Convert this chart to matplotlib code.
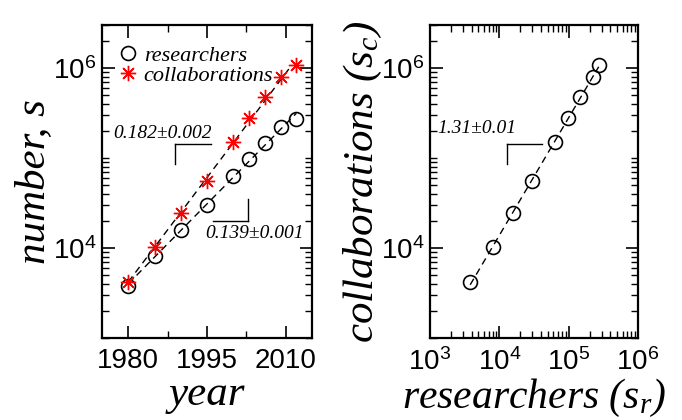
import numpy as np
import matplotlib
matplotlib.use("Agg")
import matplotlib.pyplot as plt
from matplotlib.ticker import FixedLocator, LogLocator, NullFormatter, FuncFormatter
from matplotlib.lines import Line2D

plt.rcParams['font.family'] = ['Liberation Sans', 'DejaVu Sans']
plt.rcParams['mathtext.fontset'] = 'custom'
plt.rcParams['mathtext.rm'] = 'Liberation Sans'
plt.rcParams['mathtext.it'] = 'Liberation Serif:italic'
plt.rcParams['mathtext.bf'] = 'Liberation Sans:bold'

# ---- data ----
years = [1980, 1985, 1990, 1995, 2000, 2003, 2006, 2009, 2012]
researchers = [3800, 8150, 15850, 30000, 63500, 97500, 147000, 221000, 271000]
collaborations = [4230, 10340, 24300, 55500, 151800, 276000, 472000, 789000, 1080000]
slope_labels = ["0.182\u00b10.002", "0.139\u00b10.001", "1.31\u00b10.01"]
legend_labels = ["researchers", "collaborations"]

serif_it = dict(family='Liberation Serif', style='italic')

fig = plt.figure(figsize=(6.82, 4.2), dpi=100)
axL = fig.add_axes([0.1496, 0.195, 0.308, 0.745])
axR = fig.add_axes([0.6305, 0.195, 0.305, 0.745])

def style_axes(ax):
    for s in ax.spines.values():
        s.set_linewidth(1.6)
    ax.tick_params(which='both', direction='in', top=True, right=True, labelsize=20)
    ax.tick_params(axis='x', which='both', pad=7)
    ax.tick_params(axis='y', which='both', pad=4)
    ax.tick_params(which='major', length=9, width=1.2)
    ax.tick_params(which='minor', length=5, width=1.0)

def pow_fmt(v, pos):
    e = int(round(np.log10(v)))
    return r'$\mathregular{10^{%d}}$' % e

# ---- left panel ----
yrs = np.array(years, dtype=float)
r = np.array(researchers, dtype=float)
c = np.array(collaborations, dtype=float)

pr = np.polyfit(yrs, np.log(r), 1)
pc = np.polyfit(yrs, np.log(c), 1)
tr = np.linspace(yrs[0], yrs[-1], 50)
tc = np.linspace(yrs[0], 2011, 50)
axL.plot(tr, np.exp(np.polyval(pr, tr)), color='black', ls=(0, (5, 3.5)), lw=1.0, zorder=2)
axL.plot(tc, np.exp(np.polyval(pc, tc)), color='black', ls=(0, (5, 3.5)), lw=1.0, zorder=2)
axL.plot(yrs, r, ls='none', marker='o', ms=10, mfc='none', mec='black', mew=1.2, zorder=3)
axL.plot(yrs, c, ls='none', marker=(8, 2, 0), ms=11, mec='red', mfc='red', mew=1.0, zorder=4)

axL.set_yscale('log')
axL.set_xlim(1975, 2015)
axL.set_ylim(1e3, 3e6)
axL.xaxis.set_major_locator(FixedLocator([1980, 1995, 2010]))
axL.xaxis.set_minor_locator(FixedLocator([1987.5, 2002.5]))
axL.yaxis.set_major_locator(FixedLocator([1e4, 1e6]))
axL.yaxis.set_major_formatter(FuncFormatter(pow_fmt))
axL.yaxis.set_minor_locator(LogLocator(base=10, subs=(1, 2, 3, 4, 5, 6, 7, 8, 9), numticks=20))
axL.yaxis.set_minor_formatter(NullFormatter())
style_axes(axL)
axL.set_xlabel('year', fontsize=31, labelpad=1, **serif_it)
axL.set_ylabel('number, s', fontsize=31, labelpad=0, **serif_it)

h1 = Line2D([], [], ls='none', marker='o', ms=10, mfc='none', mec='black', mew=1.2)
h2 = Line2D([], [], ls='none', marker=(8, 2, 0), ms=11, mec='red', mfc='red', mew=1.0)
axL.legend([h1, h2], legend_labels, loc='upper left', bbox_to_anchor=(0.04, 0.965),
           frameon=False, handlelength=0.8, handletextpad=0.3, labelspacing=0.0,
           borderaxespad=0.0, prop=dict(family='Liberation Serif', style='italic', size=16))

# slope triangles (axes fraction)
axL.plot([0.348, 0.518], [0.620, 0.620], color='black', lw=1.0, transform=axL.transAxes)
axL.plot([0.348, 0.348], [0.620, 0.556], color='black', lw=1.0, transform=axL.transAxes)
axL.text(0.286, 0.655, slope_labels[0], transform=axL.transAxes, ha='center', va='center',
         fontsize=14, **serif_it)
axL.plot([0.695, 0.695], [0.444, 0.375], color='black', lw=1.0, transform=axL.transAxes)
axL.plot([0.529, 0.695], [0.375, 0.375], color='black', lw=1.0, transform=axL.transAxes)
axL.text(0.726, 0.335, slope_labels[1], transform=axL.transAxes, ha='center', va='center',
         fontsize=14, **serif_it)

# ---- right panel ----
pp = np.polyfit(np.log(r), np.log(c), 1)
xs = np.linspace(np.log(r[0]), np.log(r[-1]), 50)
axR.plot(np.exp(xs), np.exp(np.polyval(pp, xs)), color='black', ls=(0, (5, 3.5)), lw=1.0, zorder=2)
axR.plot(r, c, ls='none', marker='o', ms=10, mfc='none', mec='black', mew=1.2, zorder=3)
axR.set_xscale('log')
axR.set_yscale('log')
axR.set_xlim(1e3, 1e6)
axR.set_ylim(1e3, 3e6)
axR.xaxis.set_major_locator(FixedLocator([1e3, 1e4, 1e5, 1e6]))
axR.xaxis.set_major_formatter(FuncFormatter(pow_fmt))
axR.xaxis.set_minor_locator(LogLocator(base=10, subs=(2, 3, 4, 5, 6, 7, 8, 9), numticks=20))
axR.xaxis.set_minor_formatter(NullFormatter())
axR.yaxis.set_major_locator(FixedLocator([1e4, 1e6]))
axR.yaxis.set_major_formatter(FuncFormatter(pow_fmt))
axR.yaxis.set_minor_locator(LogLocator(base=10, subs=(1, 2, 3, 4, 5, 6, 7, 8, 9), numticks=20))
axR.yaxis.set_minor_formatter(NullFormatter())
style_axes(axR)
axR.set_xlabel(r'researchers (s$_r$)', fontsize=30, labelpad=1, **serif_it)
axR.set_ylabel(r'collaborations (s$_c$)', fontsize=31, labelpad=-2, **serif_it)

axR.plot([0.370, 0.538], [0.620, 0.620], color='black', lw=1.0, transform=axR.transAxes)
axR.plot([0.370, 0.370], [0.620, 0.556], color='black', lw=1.0, transform=axR.transAxes)
axR.text(0.226, 0.671, slope_labels[2], transform=axR.transAxes, ha='center', va='center',
         fontsize=14, **serif_it)

fig.savefig('out.png', dpi=100)
